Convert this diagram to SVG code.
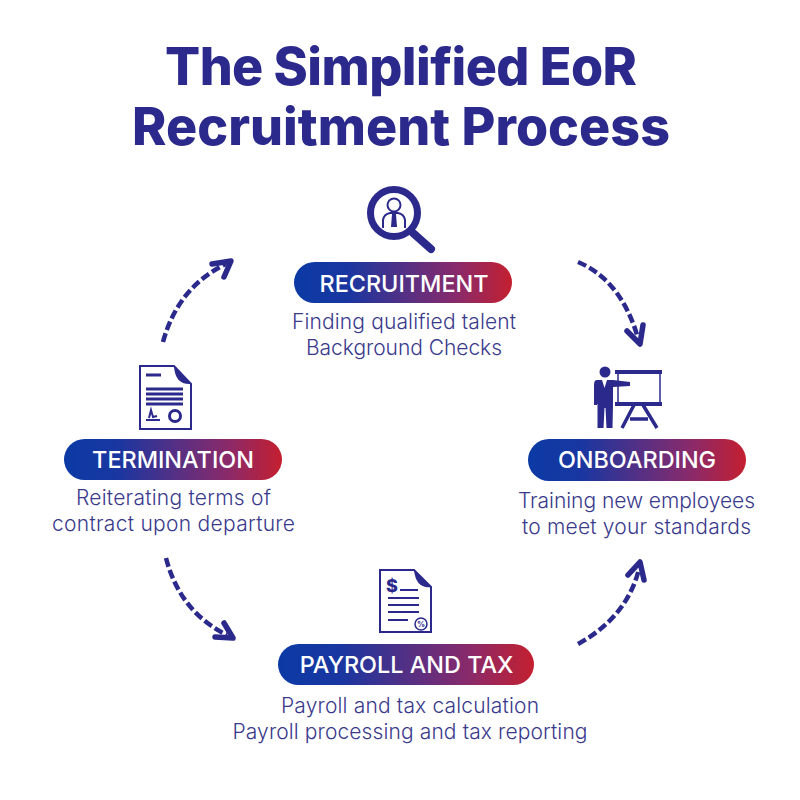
<svg xmlns="http://www.w3.org/2000/svg" width="800" height="800" viewBox="0 0 800 800">
<style>
.title{font:800 52px Inter,"Liberation Sans",sans-serif;fill:#2b2a8c;text-anchor:middle}
.pill-t{font:500 23.4px Inter,"Liberation Sans",sans-serif;fill:#fff;text-anchor:middle}
.body{font:300 21px Inter,"Liberation Sans",sans-serif;fill:#3a3a8c;text-anchor:middle}
.dash{fill:none;stroke:#2b2a8c;stroke-width:4.5;stroke-dasharray:9 3.5}
.head{fill:none;stroke:#2b2a8c;stroke-width:5.5;stroke-linecap:round;stroke-linejoin:round}
.ink{fill:#2b2a8c}
.line{fill:none;stroke:#2b2a8c;stroke-width:2}
.doc{fill:#fff;stroke:#2b2a8c;stroke-width:2}
</style>
<defs>
<linearGradient id="g"><stop offset="0" stop-color="#0b3aa5"/><stop offset=".25" stop-color="#1a36a0"/><stop offset=".75" stop-color="#8a2a6a"/><stop offset="1" stop-color="#c41f2f"/></linearGradient>
</defs>
<rect width="800" height="800" fill="#fff"/>
<g id="title">
<text class="title" x="401" y="85" textLength="472">The Simplified EoR</text>
<text class="title" x="401" y="145" textLength="538">Recruitment Process</text>
</g>
<g id="connectors">
<path class="dash" d="M578 262Q621 280 638 338"/>
<path class="head" d="M627 331L640 344L643 325"/>
<path class="dash" d="M578 644Q627 617 639 569"/>
<path class="head" d="M628 575L640 562L644 580"/>
<path class="dash" d="M166 558Q180 612 227 635"/>
<path class="head" d="M215 637L233 638L224 623"/>
<path class="dash" d="M163 342Q178 287 226 264"/>
<path class="head" d="M212 264L231 261L224 277"/>
</g>
<g id="recruitment">
<circle cx="394" cy="213" r="23.5" fill="none" stroke="#2b2a8c" stroke-width="7"/>
<path d="M413 233L431 249" fill="none" stroke="#2b2a8c" stroke-width="8" stroke-linecap="round"/>
<circle cx="394" cy="205" r="6.5" fill="none" stroke="#2b2a8c" stroke-width="2"/>
<path class="line" d="M383 228V220Q384 214 390 213H398Q404 214 405 220V228"/>
<path class="ink" d="M392 214H396L397 227H391Z"/>
<rect x="294" y="262" width="218" height="41" rx="20.5" fill="url(#g)"/>
<text class="pill-t" x="404" y="292">RECRUITMENT</text>
<text class="body" x="404" y="329" textLength="224">Finding qualified talent</text>
<text class="body" x="404" y="355" textLength="196">Background Checks</text>
</g>
<g id="onboarding">
<circle class="ink" cx="605" cy="372" r="5.5"/>
<path class="ink" d="M597 380H602L604.500 388L607 380H613L630 382V386L613 387V404L612.500 428H606.500L605.500 408H604.500L603.500 428H597.500V404H597V405H594V385Q594 380 597 380Z"/>
<path d="M618 372V402M660 372V402" fill="none" stroke="#2b2a8c" stroke-width="1.500"/>
<rect class="ink" x="615" y="370" width="47" height="4"/>
<rect class="ink" x="615" y="402" width="47" height="4"/>
<path d="M634 405L622 428M643 405L657 428M630 419H648" fill="none" stroke="#2b2a8c" stroke-width="3.500"/>
<rect x="528" y="439" width="218" height="42" rx="21" fill="url(#g)"/>
<text class="pill-t" x="637" y="468">ONBOARDING</text>
<text class="body" x="636.500" y="508" textLength="237">Training new employees</text>
<text class="body" x="636.500" y="534" textLength="229">to meet your standards</text>
</g>
<g id="payroll">
<path class="doc" d="M380 570H414L431 587V632H380Z"/>
<path class="ink" d="M414 570L431 587Q416 589 414 570Z"/>
<text x="392" y="592" font-family="Inter,'Liberation Sans',sans-serif" font-size="18" font-weight="800" fill="#2b2a8c" text-anchor="middle">$</text>
<path class="line" d="M400 590H418M388 598H419M388 605H419M388 612H419M388 620H408"/>
<circle cx="421" cy="624" r="6" fill="#fff" stroke="#2b2a8c" stroke-width="1.500"/>
<text x="421" y="627" font-family="Inter,'Liberation Sans',sans-serif" font-size="8" font-weight="700" fill="#2b2a8c" text-anchor="middle">%</text>
<rect x="278" y="644" width="256" height="41" rx="20.500" fill="url(#g)"/>
<text class="pill-t" x="406.500" y="673">PAYROLL AND TAX</text>
<text class="body" x="410" y="713" textLength="258">Payroll and tax calculation</text>
<text class="body" x="410" y="739" textLength="355">Payroll processing and tax reporting</text>
</g>
<g id="termination">
<path class="doc" d="M140 366H174L191 384V429H140Z"/>
<path class="ink" d="M174 366L191 384Q175 385 174 366Z"/>
<path d="M146 375H161M146 389H183M146 394H183M146 399H183M146 404H183" fill="none" stroke="#2b2a8c" stroke-width="3"/>
<path d="M146 420H160M149 418L151 410L153 417L157 416" fill="none" stroke="#2b2a8c" stroke-width="2"/>
<circle cx="175" cy="416" r="5.500" fill="none" stroke="#2b2a8c" stroke-width="3"/>
<rect x="64" y="439" width="218" height="41" rx="20.500" fill="url(#g)"/>
<text class="pill-t" x="173" y="468">TERMINATION</text>
<text class="body" x="173.500" y="505" textLength="195">Reiterating terms of</text>
<text class="body" x="173.500" y="531" textLength="243">contract upon departure</text>
</g>
</svg>
